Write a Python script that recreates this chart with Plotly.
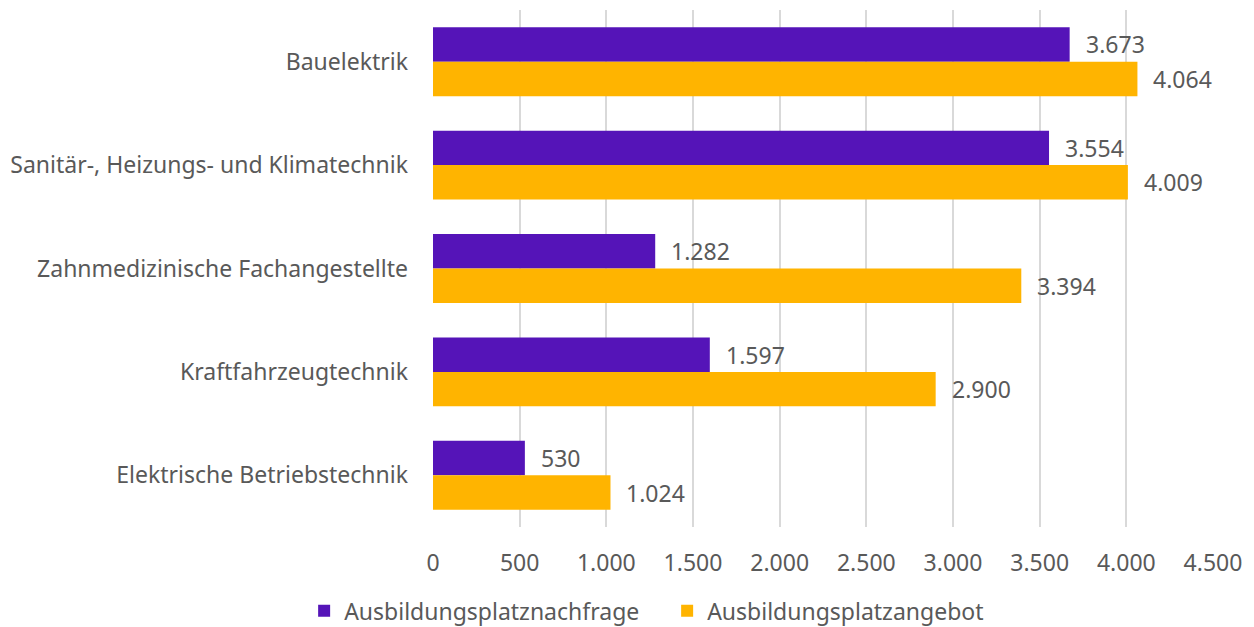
import plotly.graph_objects as go

categories = ["Bauelektrik", "Sanitär-, Heizungs- und Klimatechnik", "Zahnmedizinische Fachangestellte",
              "Kraftfahrzeugtechnik", "Elektrische Betriebstechnik"]
nachfrage = [3673, 3554, 1282, 1597, 530]
angebot = [4064, 4009, 3394, 2900, 1024]
series_names = ["Ausbildungsplatznachfrage", "Ausbildungsplatzangebot"]
x_ticks = [0, 500, 1000, 1500, 2000, 2500, 3000, 3500, 4000, 4500]

purple = "#5514B8"
yellow = "#FFB400"
textcol = "#595959"
font = "Noto Sans"
fs = 23

def fmt(v):
    return f"{v:,}".replace(",", ".")

fig = go.Figure()
fig.add_trace(go.Bar(y=categories, x=nachfrage, orientation="h", name=series_names[0],
                     marker=dict(color=purple, line=dict(width=0))))
fig.add_trace(go.Bar(y=categories, x=angebot, orientation="h", name=series_names[1],
                     marker=dict(color=yellow, line=dict(width=0))))

# data labels
for vals, off in ((nachfrage, 0), (angebot, 1)):
    for i, (c, v) in enumerate(zip(categories, vals)):
        fig.add_annotation(x=v, y=i - 1/6 + off/3, xref="x", yref="y", text=fmt(v),
                           showarrow=False, xanchor="left", xshift=14, yshift=0,
                           font=dict(family=font, size=fs, color=textcol))

# page body has an 8px margin; size the figure to fill the remaining window
fig.update_layout(
    width=1246, height=619,
    margin=dict(l=425, r=41, t=2, b=100, autoexpand=False),
    paper_bgcolor="white", plot_bgcolor="white",
    barmode="group", bargap=1/3, bargroupgap=0,
    separators=",.",
    font=dict(family=font, size=fs, color=textcol),
    showlegend=True,
    legend=dict(orientation="h", x=0.529, xref="container", xanchor="center",
                y=-0.162, yanchor="middle", entrywidth=318, entrywidthmode="pixels",
                font=dict(family=font, size=fs, color=textcol),
                traceorder="normal"),
    xaxis=dict(range=[0, 4500], tickvals=x_ticks, ticktext=[fmt(t) for t in x_ticks],
               showgrid=True, gridcolor="#D9D9D9", gridwidth=2, zeroline=False,
               showline=False, ticks="", ticklabelstandoff=20,
               tickfont=dict(family=font, size=fs, color=textcol)),
    yaxis=dict(autorange="reversed", showgrid=False, showline=False, ticks="",
               ticklabelstandoff=24, tickfont=dict(family=font, size=fs, color=textcol)),
)
fig.write_html("out.html")
